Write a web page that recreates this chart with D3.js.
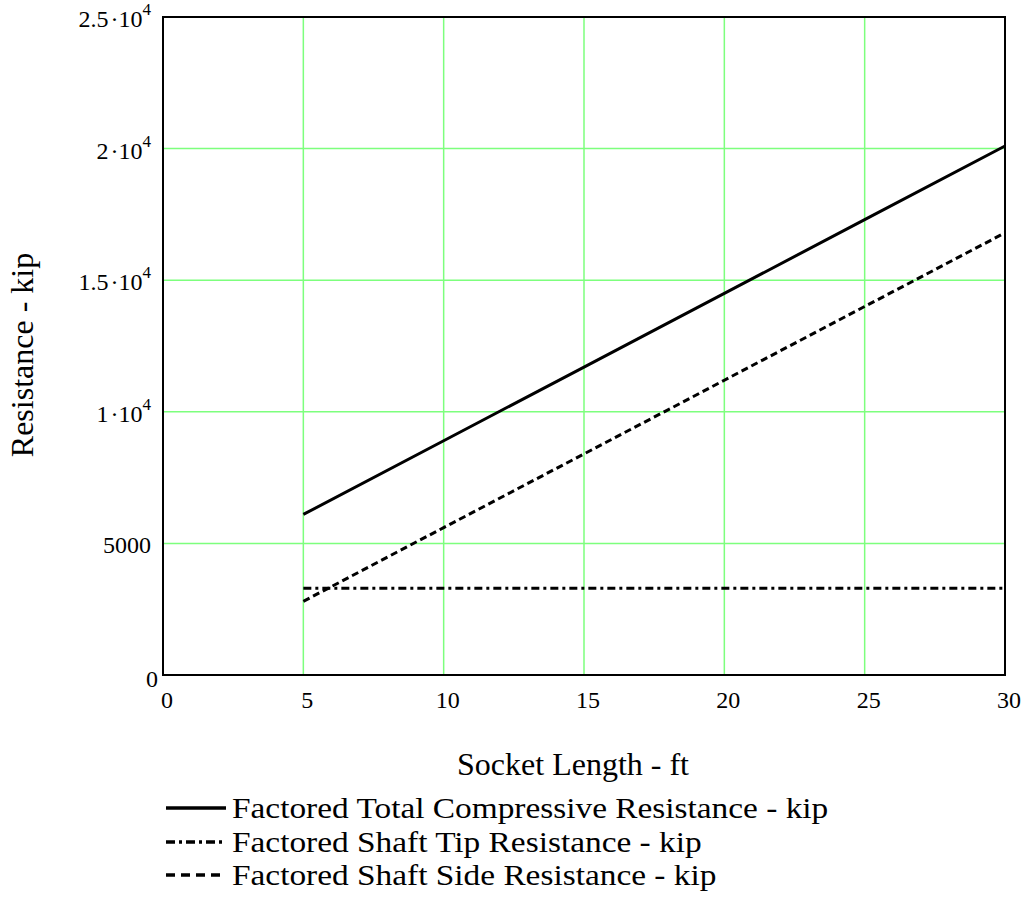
<!DOCTYPE html>
<html>
<head>
<meta charset="utf-8">
<script src="https://cdn.jsdelivr.net/npm/d3@7"></script>
<style>
  html, body { margin: 0; padding: 0; background: #fff; }
  svg { display: block; font-family: "Liberation Serif", "Times New Roman", serif; }
</style>
</head>
<body>
<svg id="chart" width="1021" height="917"></svg>
<script>
// Socket length (ft) and factored resistances (kip)
const socketLength = [5, 10, 15, 20, 25, 30];
const totalResistance = [6100, 8900, 11700, 14500, 17300, 20100];
const tipResistance = [3300, 3300, 3300, 3300, 3300, 3300];
const sideResistance = [2800, 5600, 8400, 11200, 14000, 16800];

const xTicks = [0, 5, 10, 15, 20, 25, 30];
const yTicks = [0, 5000, 10000, 15000, 20000, 25000];
// y tick labels: [mantissa, exponent] (exponent null for plain numbers)
const yTickLabels = [["0", null], ["5000", null], ["1", "4"], ["1.5", "4"], ["2", "4"], ["2.5", "4"]];

const seriesNames = [
  "Factored Total Compressive Resistance - kip",
  "Factored Shaft Tip Resistance - kip",
  "Factored Shaft Side Resistance - kip"
];

const svg = d3.select("#chart");
const plot = { left: 163, right: 1005, top: 17, bottom: 675 };

const x = d3.scaleLinear().domain([0, 30]).range([plot.left, plot.right]);
const y = d3.scaleLinear().domain([0, 25000]).range([plot.bottom, plot.top]);

const gridColor = "#7dff7d";

// grid lines
svg.append("g").selectAll("line").data(xTicks.slice(1)).join("line")
  .attr("x1", d => x(d)).attr("x2", d => x(d))
  .attr("y1", plot.top).attr("y2", plot.bottom)
  .attr("stroke", gridColor).attr("stroke-width", 1.5);
svg.append("g").selectAll("line").data(yTicks.slice(1)).join("line")
  .attr("x1", plot.left).attr("x2", plot.right)
  .attr("y1", d => y(d)).attr("y2", d => y(d))
  .attr("stroke", gridColor).attr("stroke-width", 1.5);

// frame
svg.append("rect")
  .attr("x", plot.left).attr("y", plot.top)
  .attr("width", plot.right - plot.left).attr("height", plot.bottom - plot.top)
  .attr("fill", "none").attr("stroke", "#000").attr("stroke-width", 2);

// x tick labels
svg.append("g").selectAll("text").data(xTicks).join("text")
  .attr("x", d => x(d) + 4).attr("y", plot.bottom + 33)
  .attr("text-anchor", "middle").attr("font-size", 24)
  .text(d => d);

// y tick labels with scientific notation
const yl = svg.append("g").selectAll("text").data(yTicks).join("text")
  .attr("x", (d, i) => i === 0 ? 158 : 151)
  .attr("y", (d, i) => y(d) + (i === 0 ? 12 : 10))
  .attr("text-anchor", "end").attr("font-size", 24);
yl.each(function (d, i) {
  const [m, e] = yTickLabels[i];
  const t = d3.select(this);
  if (e === null) { t.text(m); return; }
  t.append("tspan").text(m + "\u200a\u00b710");
  t.append("tspan").attr("dy", -12).attr("font-size", 17).text(e);
});

// axis titles
svg.append("text")
  .attr("x", 573).attr("y", 775)
  .attr("text-anchor", "middle").attr("font-size", 32)
  .text("Socket Length - ft");
svg.append("text")
  .attr("transform", "translate(33,355) rotate(-90)")
  .attr("text-anchor", "middle").attr("font-size", 32)
  .text("Resistance - kip");

// series styles: plot dash pattern and legend-sample dash pattern
const styles = [
  { dash: null, legendDash: null, legendEnd: 226 },
  { dash: "8,4,3,4", legendDash: "9,4,3,4", legendEnd: 226 },
  { dash: "7,4", legendDash: "9,6", legendEnd: 222 }
];
const seriesData = [totalResistance, tipResistance, sideResistance];
const line = d3.line().x(d => x(d[0])).y(d => y(d[1]));

seriesData.forEach((vals, i) => {
  svg.append("path")
    .datum(socketLength.map((L, j) => [L, vals[j]]))
    .attr("d", line)
    .attr("fill", "none").attr("stroke", "#000").attr("stroke-width", 3)
    .attr("stroke-dasharray", styles[i].dash);
});

// legend: text set a little wide (horizontally stretched glyphs)
const legendY = [808, 842, 875];
const legendStretch = 1.15;
seriesNames.forEach((name, i) => {
  svg.append("line")
    .attr("x1", 166).attr("x2", styles[i].legendEnd)
    .attr("y1", legendY[i]).attr("y2", legendY[i])
    .attr("stroke", "#000").attr("stroke-width", 3.5)
    .attr("stroke-dasharray", styles[i].legendDash);
  const t = svg.append("text")
    .attr("x", 232).attr("y", legendY[i] + 10)
    .attr("font-size", 29)
    .text(name);
  const w = t.node().getComputedTextLength();
  t.attr("textLength", w * legendStretch).attr("lengthAdjust", "spacingAndGlyphs");
});
</script>
</body>
</html>
